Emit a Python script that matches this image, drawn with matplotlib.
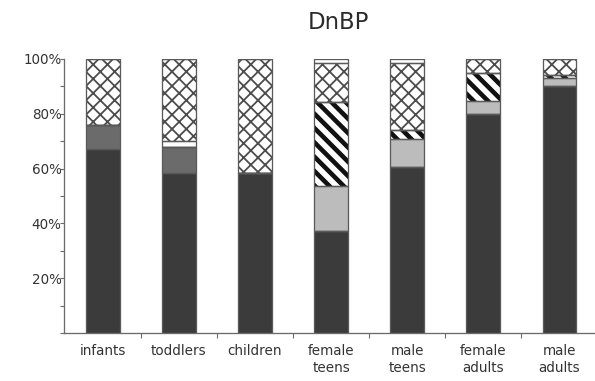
import matplotlib

matplotlib.use("Agg")

import matplotlib.pyplot as plt
import numpy as np
from matplotlib.ticker import FixedLocator, PercentFormatter

plt.rcParams["font.family"] = ["DejaVu Sans"]

groups = ["infants", "toddlers", "children", "female\nteens", "male\nteens",
          "female\nadults", "male\nadults"]

# stacked shares (% of total), bottom to top
dark = [67.0, 58.4, 58.5, 37.2, 60.5, 79.8, 90.1]
mid_gray = [9.0, 9.4, 0.0, 0.0, 0.0, 0.0, 0.0]
light_gray = [0.0, 0.0, 0.0, 16.6, 10.2, 4.9, 3.1]
stripes = [0.0, 0.0, 0.0, 30.4, 3.4, 10.3, 1.0]
blank = [0.0, 2.2, 0.0, 0.0, 0.0, 0.0, 0.0]
crosshatch = [24.0, 30.0, 41.5, 14.3, 24.3, 5.0, 5.8]
top_band = [0.0, 0.0, 0.0, 1.5, 1.6, 0.0, 0.0]

EDGE = "#5a5a5a"
TEXT = "#333333"

DPI = 86


def px(v):
    # pixel size -> points at the output dpi
    return v * 72.0 / DPI


# (values, face, hatch, hatch colour, hatch width in px)
layers = [
    (dark, "#3b3b3b", None, None, 0),
    (mid_gray, "#6b6b6b", None, None, 0),
    (light_gray, "#bcbcbc", None, None, 0),
    (stripes, "white", "\\\\", "#111111", 4.6),
    (blank, "white", None, None, 0),
    (crosshatch, "white", "xx", "#4c4c4c", 1.8),
    (top_band, "white", None, None, 0),
]

fig = plt.figure(figsize=(595 / DPI, 381 / DPI), dpi=DPI)
ax = fig.add_axes([64 / 595, 48 / 381, 531 / 595, 274 / 381])

x = np.arange(len(groups))
width = 0.44
bottom = np.zeros(len(groups))
for vals, face, hatch, hcol, hlw in layers:
    vals = np.asarray(vals)
    if hatch:
        with plt.rc_context({"hatch.linewidth": px(hlw)}):
            ax.bar(x, vals, width, bottom=bottom, color=face, hatch=hatch,
                   edgecolor=hcol, linewidth=0, zorder=2)
    else:
        ax.bar(x, vals, width, bottom=bottom, color=face, linewidth=0, zorder=2)
    # segment outline
    ax.bar(x, vals, width, bottom=bottom, fill=False, edgecolor=EDGE,
           linewidth=px(1.3), zorder=3)
    bottom += vals

ax.set_xlim(-0.51, 6.47)
ax.set_ylim(0, 100)

for side in ["top", "right"]:
    ax.spines[side].set_visible(False)
for side in ["left", "bottom"]:
    ax.spines[side].set_color("#6a6a6a")
    ax.spines[side].set_linewidth(px(1.3))

ax.yaxis.set_major_locator(FixedLocator([20, 40, 60, 80, 100]))
ax.yaxis.set_minor_locator(FixedLocator([0, 10, 30, 50, 70, 90]))
ax.yaxis.set_major_formatter(PercentFormatter(decimals=0))
ax.tick_params(axis="y", which="both", length=px(4.5), width=px(1.1),
               color="#6a6a6a", labelsize=px(13.5), labelcolor=TEXT,
               pad=px(-2))

ax.set_xticks(x)
ax.set_xticklabels(groups, linespacing=1.3)
ax.xaxis.set_minor_locator(FixedLocator(x[:-1] + 0.5))
ax.tick_params(axis="x", which="major", length=0, labelsize=px(13.5),
               labelcolor=TEXT, pad=px(11))
ax.tick_params(axis="x", which="minor", length=px(4.5), width=px(1.1),
               color="#6a6a6a")

fig.text(0.569, 0.94, "DnBP", ha="center", va="center", fontsize=px(22.8),
         color="#2a2a2a")

fig.savefig("out.png", dpi=DPI, facecolor="white")
